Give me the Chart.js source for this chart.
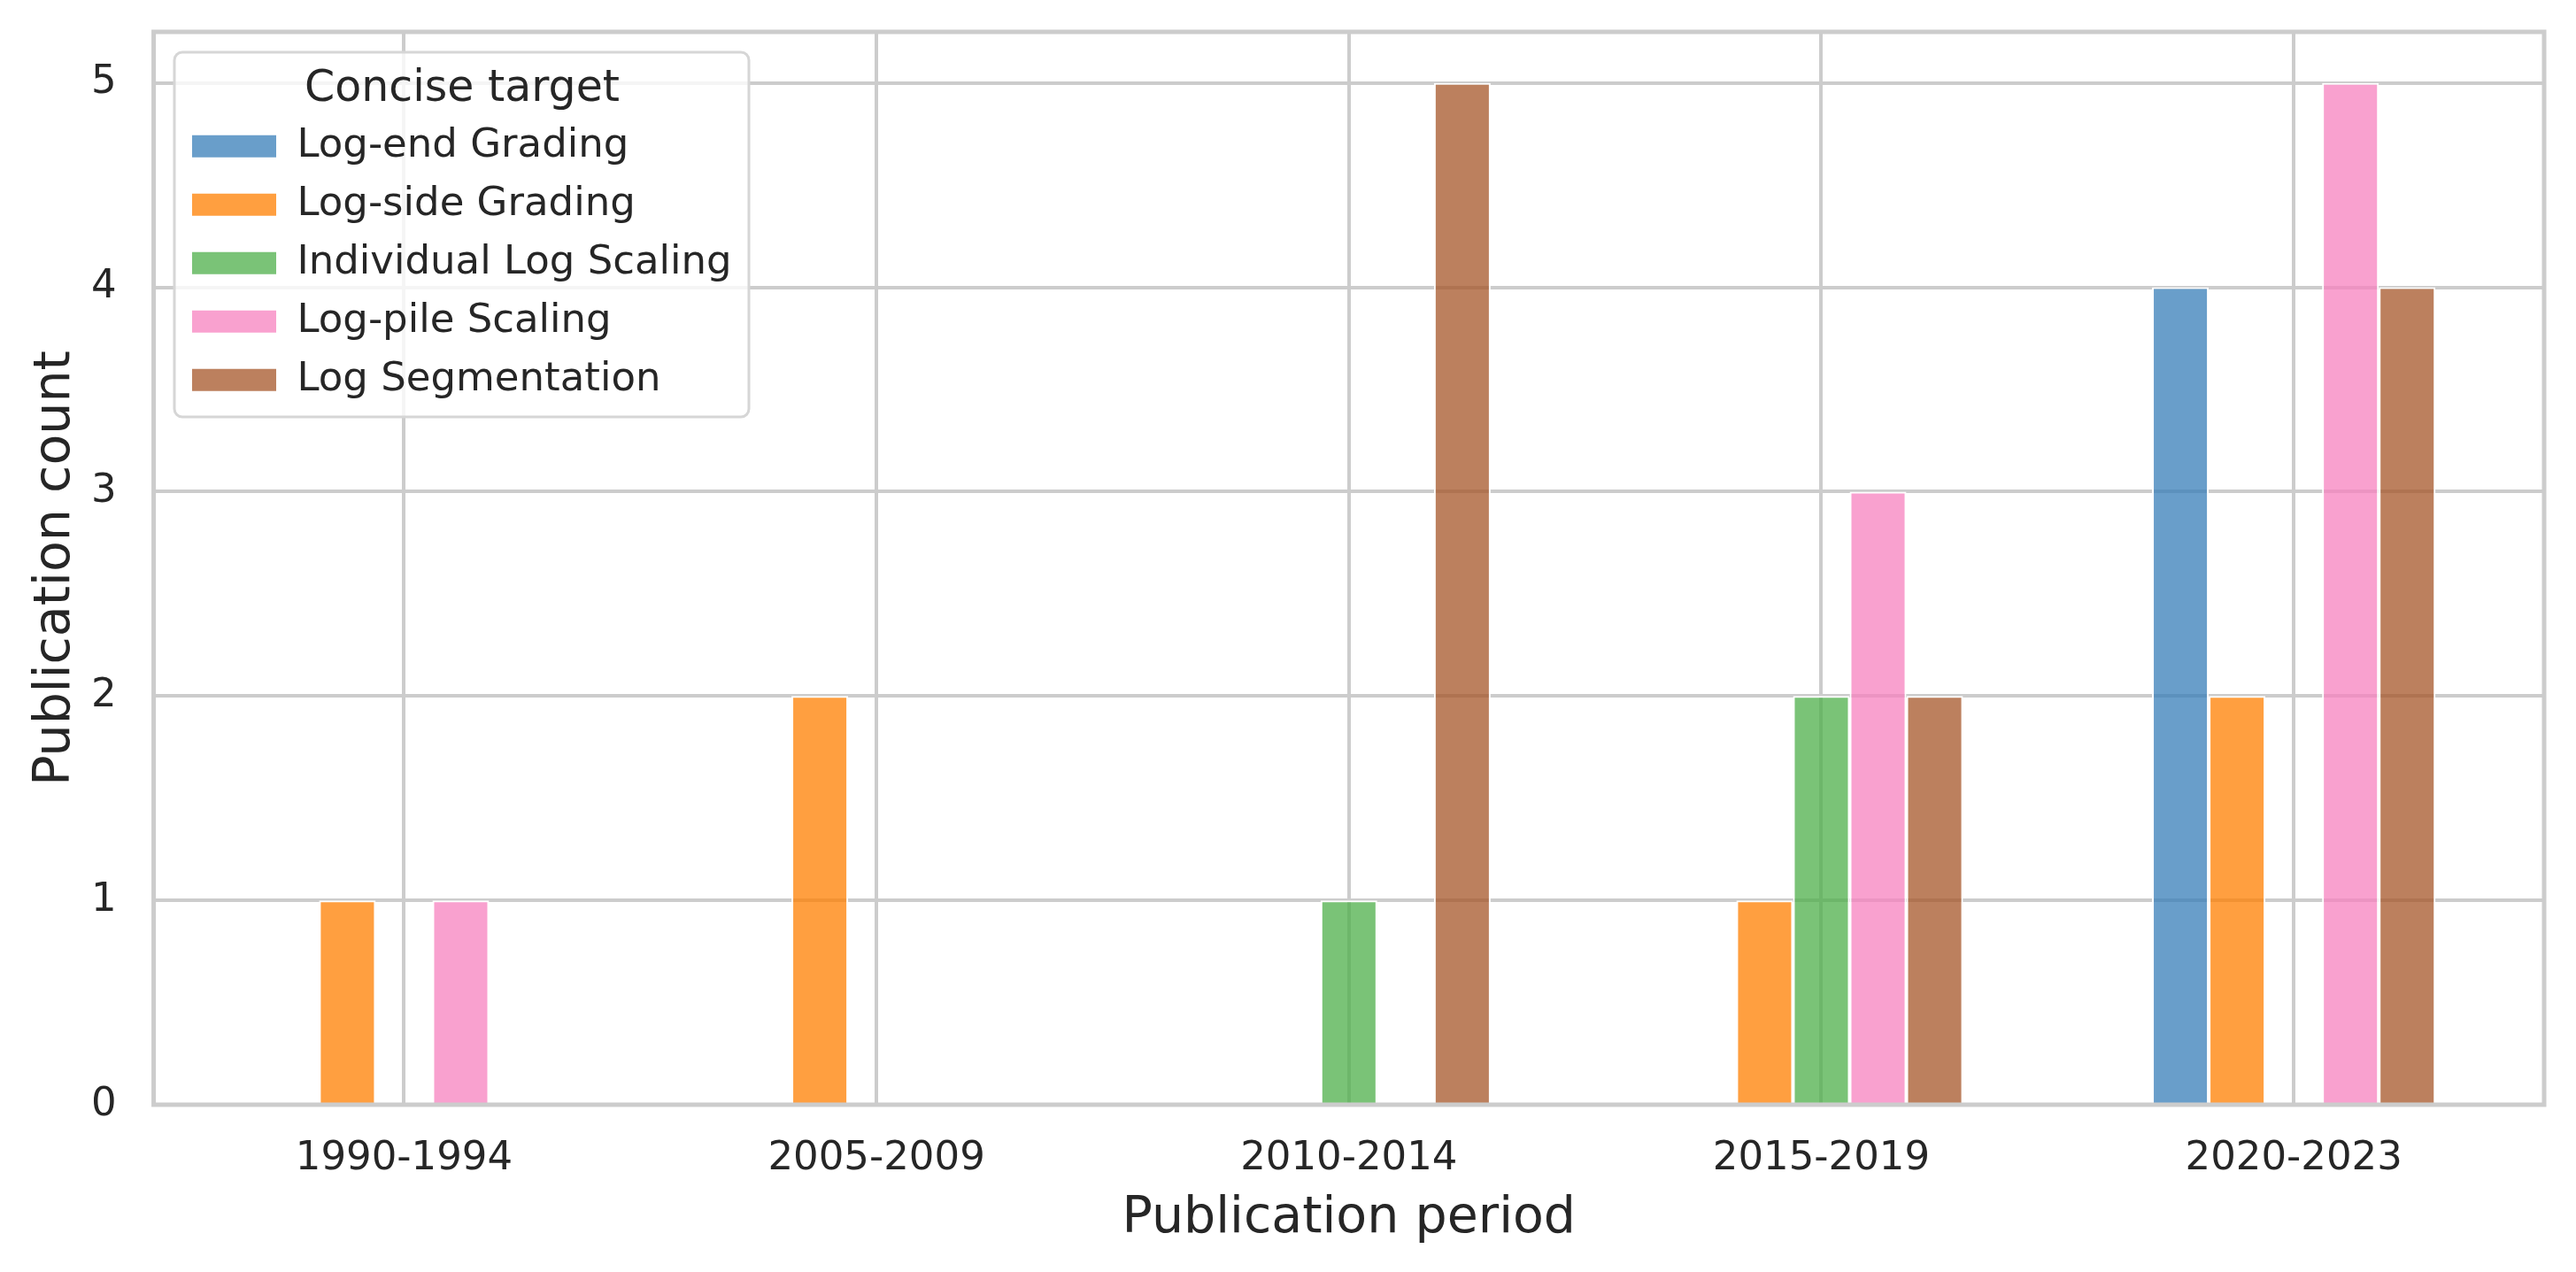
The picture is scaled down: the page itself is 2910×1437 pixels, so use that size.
<!DOCTYPE html>
<html>
<head>
<meta charset="utf-8">
<script src="https://cdn.jsdelivr.net/npm/chart.js@4.4.1/dist/chart.umd.min.js"></script>
<style>
  html, body { margin: 0; padding: 0; background: #fff; }
  #wrap { width: 2910px; height: 1437px; }
</style>
</head>
<body>
<div id="wrap"><canvas id="barChart"></canvas></div>
<script>
// data
const periods = ["1990-1994", "2005-2009", "2010-2014", "2015-2019", "2020-2023"];
const targets = ["Log-end Grading", "Log-side Grading", "Individual Log Scaling", "Log-pile Scaling", "Log Segmentation"];
const logEnd = [0, 0, 0, 0, 4];
const logSide = [1, 2, 0, 1, 2];
const individualLog = [0, 0, 1, 2, 0];
const logPile = [1, 0, 0, 3, 5];
const logSegmentation = [0, 0, 5, 2, 4];
const yTicks = [0, 1, 2, 3, 4, 5];

//variables
const textColor = "#262626";
const gridColor = "#cccccc";
const fontFamily = "'DejaVu Sans', sans-serif";
const SET1 = ["55,126,184", "255,127,0", "77,175,74", "247,129,191", "166,86,40"];
const series = [logEnd, logSide, individualLog, logPile, logSegmentation];

// legend placement (matplotlib style box inside the axes)
const legendShift = { x: 21.4, y: 121.8 };
const legendFrame = { x: 197, y: 59, w: 649, h: 412, r: 9 };

const chartData = {
  datasets: series.map((vals, i) => ({
    label: targets[i],
    data: vals.map((v, j) => ({ x: j, y: v })),
    backgroundColor: `rgba(${SET1[i]}, 0.75)`,
    borderColor: "#ffffff",
    borderWidth: 2,
    categoryPercentage: 0.6,
    barPercentage: 1,
  })),
};

const legendBox = {
  id: "legendBox",
  afterLayout(chart) {
    const lg = chart.legend;
    if (!lg || lg._framed) return;
    const draw0 = lg.draw;
    lg.draw = function (...args) {
      const ctx = this.ctx;
      const f = legendFrame;
      ctx.save();
      ctx.beginPath();
      ctx.roundRect(f.x, f.y, f.w, f.h, f.r);
      ctx.fillStyle = "rgba(255,255,255,0.8)";
      ctx.fill();
      ctx.lineWidth = 3;
      ctx.strokeStyle = "#d6d6d6";
      ctx.stroke();
      ctx.fillStyle = textColor;
      ctx.font = `49px ${fontFamily}`;
      ctx.textAlign = "left";
      ctx.textBaseline = "alphabetic";
      ctx.fillText("Concise target", 344, 114);
      ctx.translate(legendShift.x, legendShift.y);
      draw0.apply(this, args);
      ctx.restore();
    };
    lg._framed = true;
  },
};

// spines drawn over the bars, like matplotlib
const spines = {
  id: "spines",
  afterDatasetsDraw(chart) {
    const { ctx, chartArea: a } = chart;
    ctx.save();
    ctx.strokeStyle = gridColor;
    ctx.lineWidth = 5;
    ctx.strokeRect(a.left, a.top, a.right - a.left, a.bottom - a.top);
    ctx.restore();
  },
};

const options = {
  responsive: true,
  maintainAspectRatio: false,
  animation: false,
  devicePixelRatio: 1,
  layout: { padding: { top: 36, right: 36, left: 0, bottom: 0 } },
  plugins: {
    tooltip: { enabled: false },
    legend: {
      position: "chartArea",
      align: "start",
      labels: {
        color: textColor,
        font: { size: 45, family: fontFamily },
        boxWidth: 97,
        boxHeight: 27,
        padding: 21,
      },
    },
  },
  scales: {
    x: {
      type: "linear",
      offset: false,
      min: -0.53,
      max: 4.53,
      afterFit(scale) {
        scale.height = 189;
        scale.paddingLeft = 0;
        scale.paddingRight = 0;
      },
      border: { display: false },
      grid: { color: gridColor, lineWidth: 4, drawTicks: false, offset: false },
      ticks: {
        stepSize: 1,
        includeBounds: false,
        color: textColor,
        padding: 34,
        font: { size: 45, family: fontFamily },
        callback: (v) => (Number.isInteger(v) ? periods[v] : ""),
      },
      title: {
        display: true,
        text: "Publication period",
        color: textColor,
        font: { size: 57, family: fontFamily },
        padding: { top: 0, bottom: 26 },
      },
    },
    y: {
      min: 0,
      max: 5.25,
      afterFit(scale) {
        scale.width = 173.6;
        scale.paddingTop = 0;
        scale.paddingBottom = 0;
      },
      border: { display: false },
      grid: { color: gridColor, lineWidth: 4, drawTicks: false },
      afterBuildTicks(scale) { scale.ticks = yTicks.map((v) => ({ value: v })); },
      ticks: {
        color: textColor,
        padding: 42,
        font: { size: 45, family: fontFamily },
      },
      title: {
        display: true,
        text: "Publication count",
        color: textColor,
        font: { size: 57, family: fontFamily },
        padding: { top: 29, bottom: 0 },
      },
    },
  },
};

const ctx = document.getElementById("barChart").getContext("2d");

new Chart(ctx, {
  type: "bar",
  data: chartData,
  options,
  plugins: [legendBox, spines],
});
</script>
</body>
</html>
